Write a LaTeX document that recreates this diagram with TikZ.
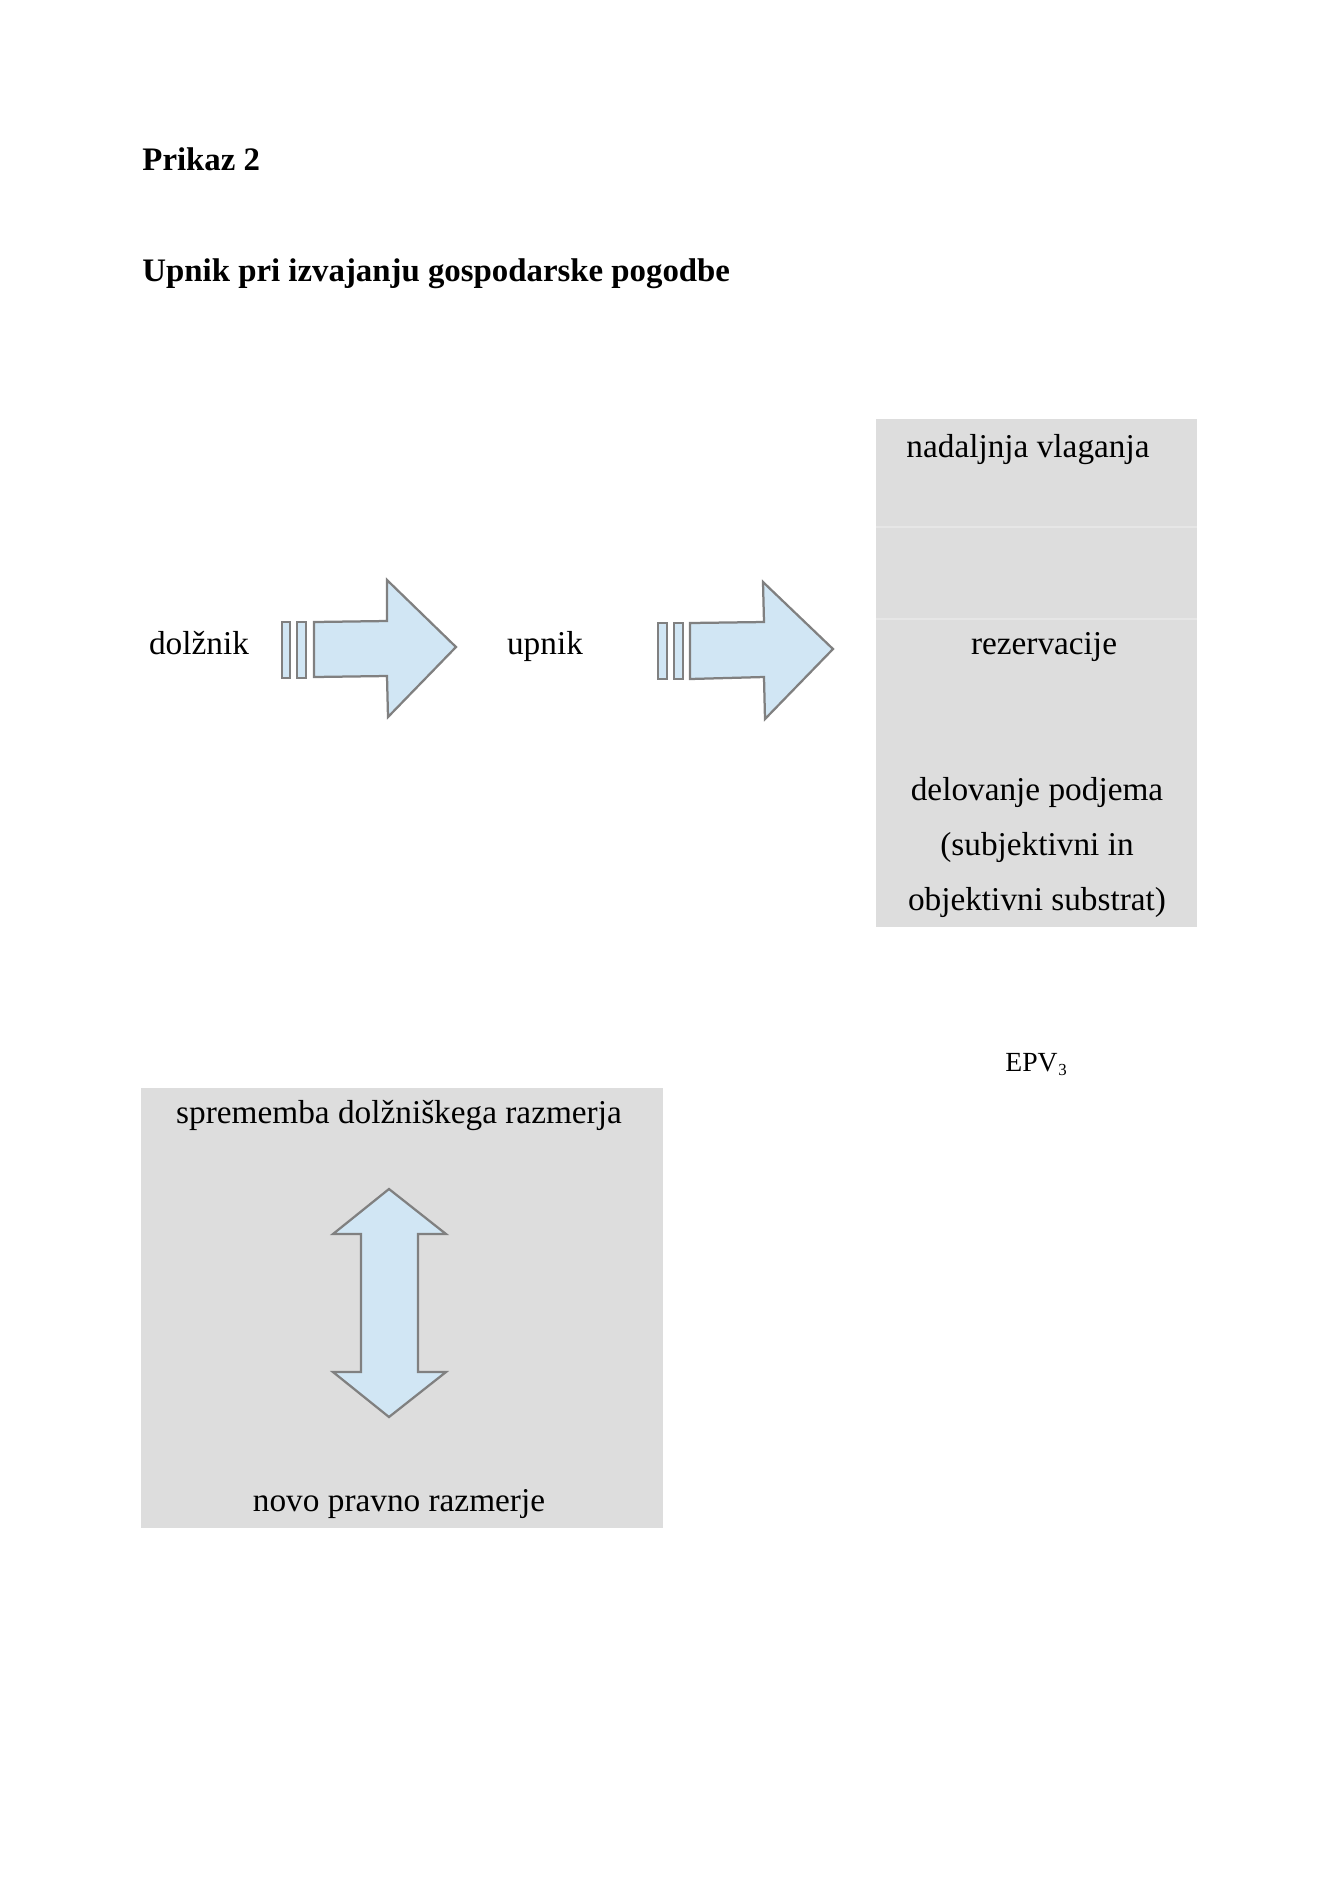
\documentclass[tikz,border=0pt]{standalone}
\usepackage{fontspec}
\setmainfont{Liberation Serif}
\definecolor{boxgray}{RGB}{221,221,221}
\definecolor{sepgray}{RGB}{230,230,230}
\definecolor{arrowfill}{RGB}{209,230,244}
\definecolor{arrowline}{RGB}{128,128,128}
\tikzset{
  txt/.style={inner sep=0pt, font=\fontsize{14.8}{17}\selectfont},
  ttl/.style={inner sep=0pt, font=\fontsize{14.6}{17}\selectfont\bfseries},
  panel/.style={fill=boxgray, draw=none},
  blockarrow/.style={fill=arrowfill, draw=arrowline, line width=1pt, line join=miter},
}
\begin{document}
\begin{tikzpicture}[x=0.44457pt, y=-0.44457pt]
\useasboundingbox[fill=white] (0,0) rectangle (1339,1889);
% titles
\node[ttl, anchor=base west] (prikaz) at (142,170) {Prikaz 2};
\node[ttl, anchor=base west] (title) at (142,281) {Upnik pri izvajanju gospodarske pogodbe};
% right panel
\fill[panel] (876,419) rectangle (1197,927);
\draw[sepgray, line width=0.5pt] (876,527) -- (1197,527);
\draw[sepgray, line width=0.5pt] (876,619) -- (1197,619);
\node[txt, anchor=base] (nv) at (1028,457) {nadaljnja vlaganja};
\node[txt, anchor=base] (rez) at (1044,654) {rezervacije};
\node[txt, anchor=base] (del1) at (1037,800) {delovanje podjema};
\node[txt, anchor=base] (del2) at (1037,855) {(subjektivni in};
\node[txt, anchor=base] (del3) at (1037,910) {objektivni substrat)};
% row labels
\node[txt, anchor=base] (dol) at (199,654) {dolžnik};
\node[txt, anchor=base] (upn) at (545,654) {upnik};
% arrow 1
\draw[blockarrow] (282,622) rectangle (290,678);
\draw[blockarrow] (297,622) rectangle (306,678);
\draw[blockarrow] (314,622) -- (387,621) -- (387,580) -- (456,647) -- (388,717) -- (387,676) -- (314,677) -- cycle;
% arrow 2
\draw[blockarrow] (658,623) rectangle (667,679);
\draw[blockarrow] (674,623) rectangle (683,679);
\draw[blockarrow] (690,623) -- (764,622) -- (763,582) -- (833,649) -- (765,719) -- (764,677) -- (690,679) -- cycle;
% EPV3
\node[inner sep=0pt, anchor=base west, font=\fontsize{12.3}{14}\selectfont] (epv) at (1005,1071) {EPV\kern0.3pt\raisebox{-2.2pt}{\fontsize{7.5}{8}\selectfont 3}};
% lower panel
\fill[panel] (141,1088) rectangle (663,1528);
\node[txt, anchor=base] (spr) at (399,1123) {sprememba dolžniškega razmerja};
\node[txt, anchor=base] (novo) at (399,1511) {novo pravno razmerje};
\draw[blockarrow] (389,1189) -- (446,1234) -- (418,1234) -- (418,1372) -- (446,1372) -- (389,1417) -- (333,1372) -- (361,1372) -- (361,1234) -- (333,1234) -- cycle;
\end{tikzpicture}
\end{document}
